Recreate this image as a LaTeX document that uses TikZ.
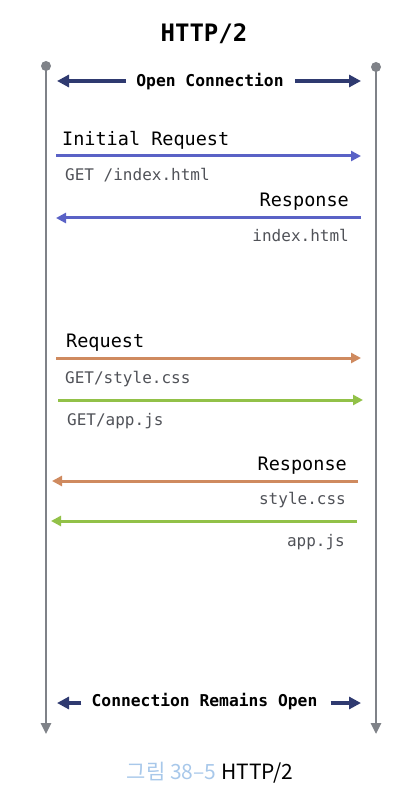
\documentclass[tikz,border=0pt]{standalone}
\usepackage{fontspec}
\setmainfont{Liberation Sans}
\setmonofont{DejaVu Sans Mono}
\newfontfamily\krfont{Noto Sans CJK KR}
\usetikzlibrary{arrows.meta}

\definecolor{lifegray}{HTML}{7F8288}
\definecolor{navy}{HTML}{2F3A70}
\definecolor{msgblue}{HTML}{5A62C6}
\definecolor{msgorange}{HTML}{CF8A5F}
\definecolor{msggreen}{HTML}{92C148}
\definecolor{labelgray}{HTML}{505258}
\definecolor{capblue}{HTML}{A8C8EA}

\begin{document}
\begin{tikzpicture}[x=1pt, y=-1pt,
    life/.style={draw=lifegray, line width=2.6pt, -{Triangle[length=11pt,width=10pt]}},
    dot/.style={circle, fill=lifegray, inner sep=0pt, minimum size=10pt},
    msg/.style={line width=3pt, -{Triangle[length=10pt,width=10pt]}},
    conn/.style={draw=navy, line width=3.8pt, -{Triangle[length=12pt,width=12pt]}},
    head/.style={font=\fontsize{18.5}{20}\selectfont\ttfamily, text=black, inner sep=0pt, anchor=base west},
    sub/.style={font=\fontsize{16}{18}\selectfont\ttfamily, text=labelgray, inner sep=0pt, anchor=base west},
    bold/.style={font=\fontsize{16.3}{18}\selectfont\ttfamily\bfseries, inner ysep=0pt, anchor=base}]
    \useasboundingbox (0,0) rectangle (414,799);

    % title
    \node[font=\fontsize{24}{26}\selectfont\ttfamily\bfseries, inner sep=0pt, anchor=base] (title) at (204,42) {HTTP/2};

    % lifelines
    \node[dot] (client) at (46,66) {};
    \node[dot] (server) at (376,67) {};
    \coordinate (client-end) at (46,734);
    \coordinate (server-end) at (376,734);
    \draw[life] (client.center) -- (client-end);
    \draw[life] (server.center) -- (server-end);

    % open connection
    \node[bold, inner xsep=10pt] (open) at (210,87) {Open Connection};
    \coordinate (open-l) at (57,81);
    \coordinate (open-r) at (361,81);
    \draw[conn] (open.west |- open-l) -- (open-l);
    \draw[conn] ([xshift=1pt]open.east |- open-r) -- (open-r);

    % initial request / response
    \node[head] (initreq) at (62,146) {Initial Request};
    \coordinate (req1-l) at (56,156);
    \coordinate (req1-r) at (361,156);
    \draw[msg, draw=msgblue] (req1-l) -- (req1-r);
    \node[sub] (getindex) at (65,181) {GET /index.html};

    \node[head, anchor=base east] (resp1) at (349,207) {Response};
    \coordinate (resp1-r) at (361,218);
    \coordinate (resp1-l) at (56,218);
    \draw[msg, draw=msgblue] (resp1-r) -- (resp1-l);
    \node[sub, anchor=base east] (index) at (349,242) {index.html};

    % multiplexed requests
    \node[head] (req2) at (66,347) {Request};
    \coordinate (req2-l) at (56,358);
    \coordinate (req2-r) at (361,358);
    \draw[msg, draw=msgorange] (req2-l) -- (req2-r);
    \node[sub] (getcss) at (65,383) {GET/style.css};
    \coordinate (req3-l) at (58,400);
    \coordinate (req3-r) at (363,400);
    \draw[msg, draw=msggreen] (req3-l) -- (req3-r);
    \node[sub] (getjs) at (67,425) {GET/app.js};

    % multiplexed responses
    \node[head, anchor=base east] (resp2) at (347,470) {Response};
    \coordinate (resp2-r) at (358,481);
    \coordinate (resp2-l) at (52,481);
    \draw[msg, draw=msgorange] (resp2-r) -- (resp2-l);
    \node[sub, anchor=base east] (css) at (346,504) {style.css};
    \coordinate (resp3-r) at (357,521);
    \coordinate (resp3-l) at (51,521);
    \draw[msg, draw=msggreen] (resp3-r) -- (resp3-l);
    \node[sub, anchor=base east] (js) at (345,546) {app.js};

    % connection stays open
    \node[bold, inner xsep=10pt] (remain) at (204.5,706) {Connection Remains Open};
    \coordinate (remain-l) at (57,703);
    \coordinate (remain-r) at (361,703);
    \draw[conn] (remain.west |- remain-l) -- (remain-l);
    \draw[conn] ([xshift=3pt]remain.east |- remain-r) -- (remain-r);

    % caption
    \node[font=\fontsize{21}{23}\selectfont\krfont, inner sep=0pt, anchor=base] (caption) at (210,779)
        {\textcolor{capblue}{그림 38–5} HTTP/2};
\end{tikzpicture}
\end{document}
